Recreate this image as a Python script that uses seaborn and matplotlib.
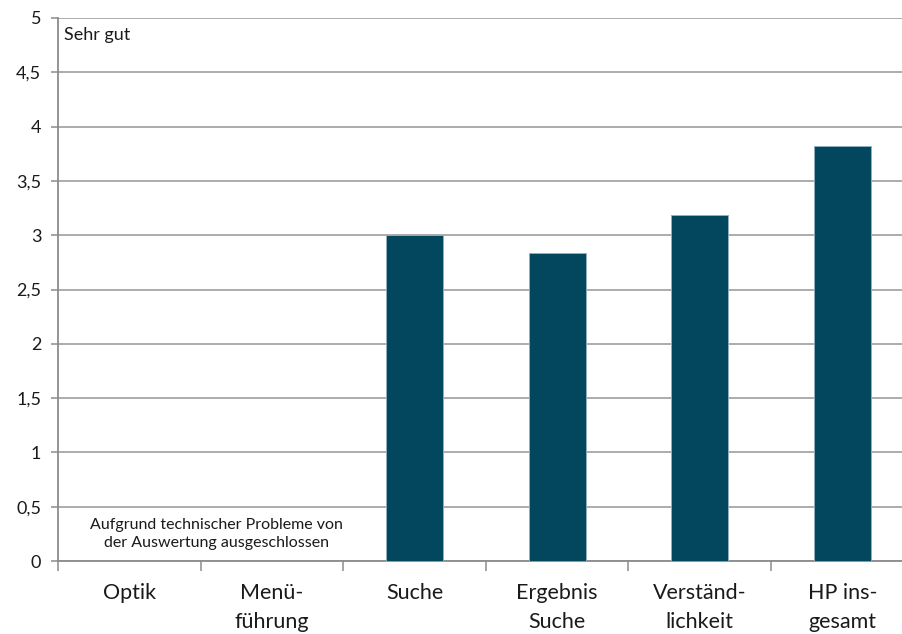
import numpy as np
import pandas as pd
import matplotlib
matplotlib.use("Agg")
import matplotlib.pyplot as plt
import seaborn as sns
from matplotlib.ticker import FixedLocator, FuncFormatter

# Bewertung der Homepage (Skala 0 bis 5)
categories = ["Optik", "Menüführung", "Suche", "Ergebnis Suche",
              "Verständlichkeit", "HP insgesamt"]
tick_labels = ["Optik", "Menü-\nführung", "Suche", "Ergebnis\nSuche",
               "Verständ-\nlichkeit", "HP ins-\ngesamt"]
scores = [np.nan, np.nan, 3.0, 2.84, 3.19, 3.82]

df = pd.DataFrame({"Kategorie": categories, "Wert": scores})

sns.set_theme(style="white")
plt.rcParams["font.family"] = ["Lato", "DejaVu Sans"]

BAR = "#02475E"
GRID = "#A6A6A6"
AXIS = "#8C8C8C"
TEXT = "#1A1A1A"

fig = plt.figure(figsize=(9.03, 6.34), dpi=100)
ax = fig.add_axes([58 / 903, 73 / 634, 855.6 / 903, 543 / 634])

sns.barplot(data=df, x="Kategorie", y="Wert", order=categories,
            color=BAR, saturation=1, width=0.4,
            edgecolor="#8FB0BE", linewidth=0.7, ax=ax, zorder=3)

ax.set_xlim(-0.5, len(categories) - 0.5)
ax.set_ylim(0, 5)
ax.set_xlabel("")
ax.set_ylabel("")

# y axis: gridlines every 0.5, German decimal comma
yticks = np.arange(0, 5.01, 0.5)
ax.yaxis.set_major_locator(FixedLocator(yticks))
ax.yaxis.set_major_formatter(FuncFormatter(
    lambda v, p: f"{v:g}".replace(".", ",")))
ax.grid(axis="y", color=GRID, linewidth=1.3, zorder=0)
ax.grid(axis="x", visible=False)
ax.tick_params(axis="y", which="major", direction="out", length=5,
               width=1.1, color=AXIS, pad=7, labelsize=13, labelcolor=TEXT,
               left=True)

# x axis: labels centred on categories, tick marks between them
ax.set_xticks(range(len(categories)))
ax.set_xticklabels(tick_labels, fontsize=15.5, color=TEXT, linespacing=1.55)
ax.xaxis.set_minor_locator(FixedLocator(np.arange(-0.5, len(categories), 1.0)))
ax.tick_params(axis="x", which="major", length=0, pad=16, bottom=True)
ax.tick_params(axis="x", which="minor", direction="out", length=7,
               width=1.1, color=AXIS, bottom=True)

for side in ("top", "right"):
    ax.spines[side].set_visible(False)
for side in ("left", "bottom"):
    ax.spines[side].set_visible(True)
    ax.spines[side].set_color(AXIS)
    ax.spines[side].set_linewidth(1.3)

ax.text(0.0075, 0.9687, "Sehr gut", transform=ax.transAxes,
        ha="left", va="center", fontsize=13, color=TEXT)
ax.text(0.61, 0.0497, "Aufgrund technischer Probleme von\n"
        "der Auswertung ausgeschlossen",
        transform=ax.get_xaxis_transform(), ha="center", va="center",
        fontsize=11.5, color=TEXT, linespacing=1.35)

fig.savefig("out.png", dpi=100)
